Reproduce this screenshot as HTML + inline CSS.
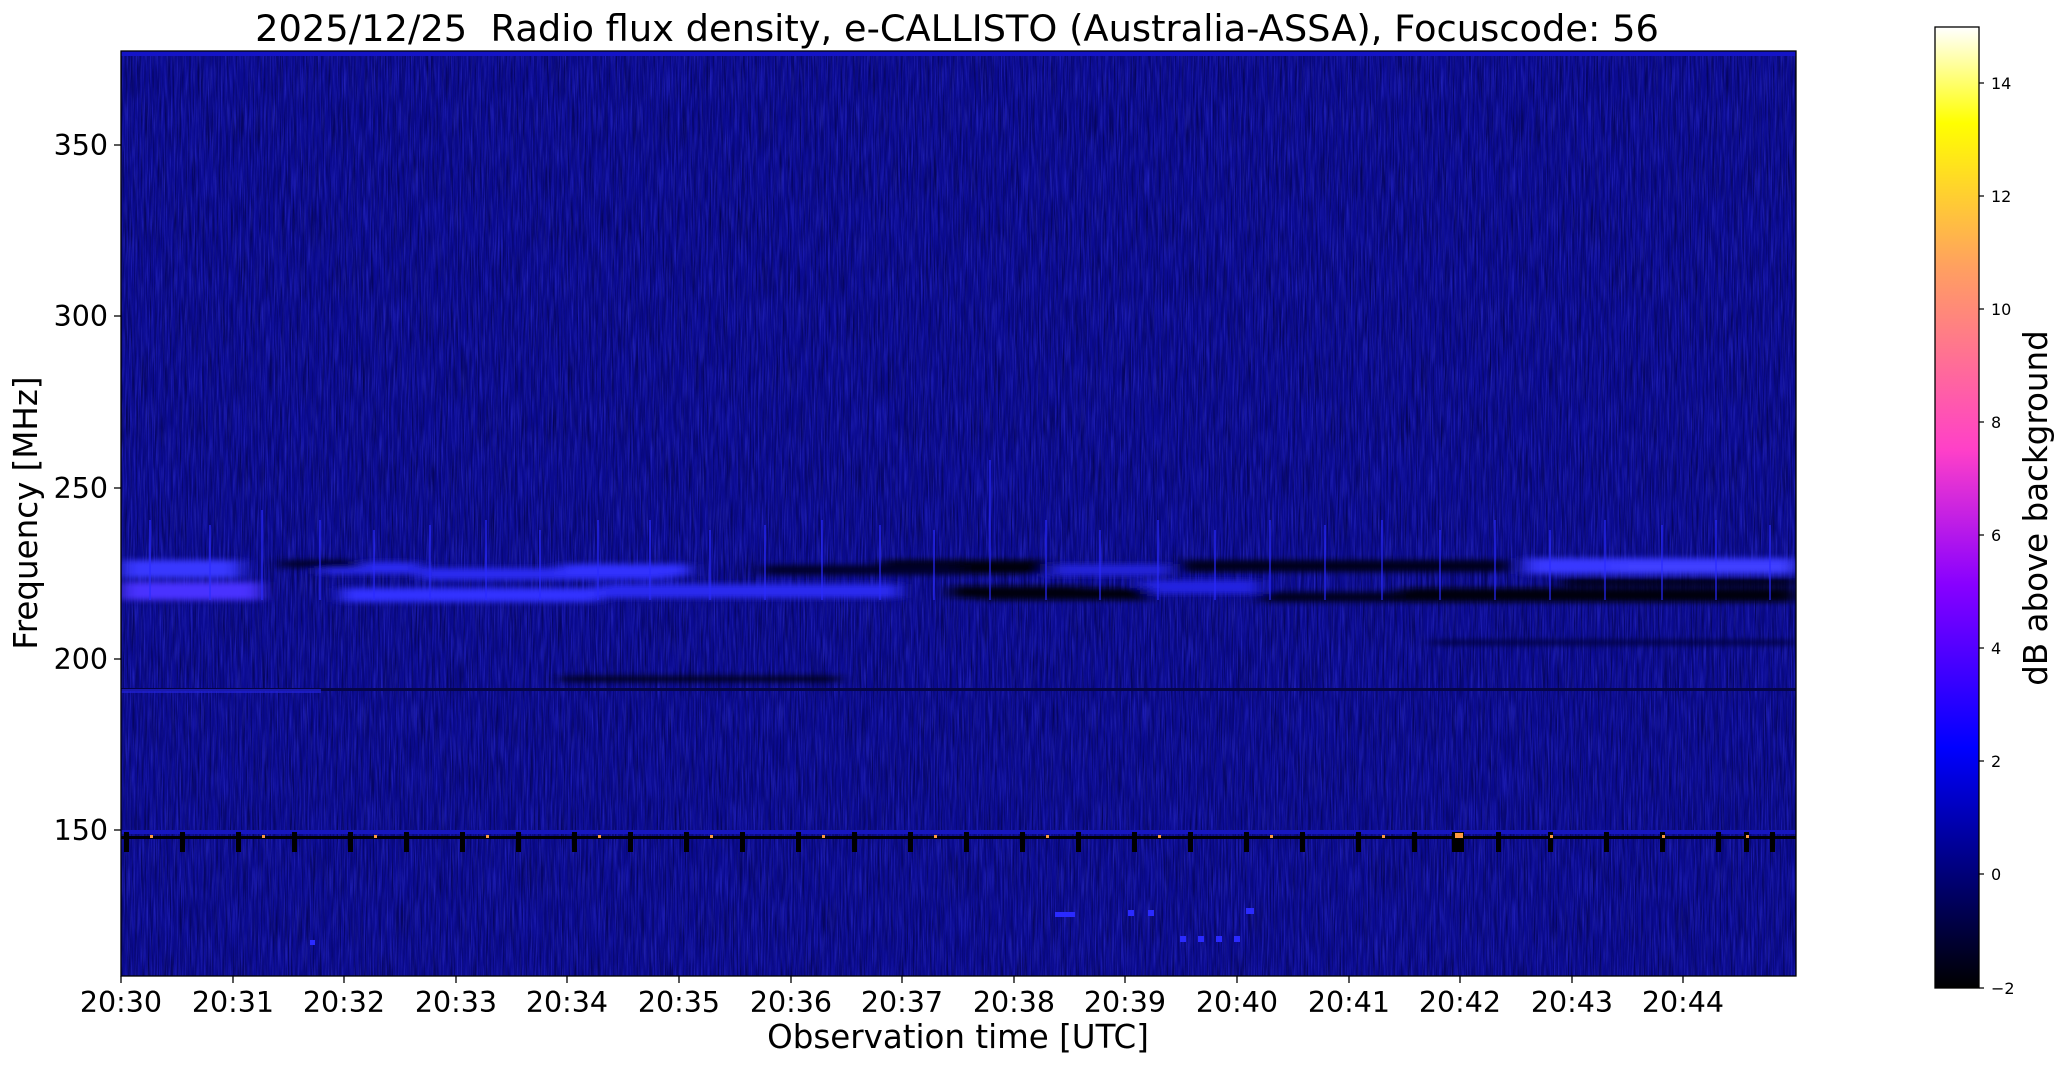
<!DOCTYPE html>
<html><head><meta charset="utf-8"><style>
html,body{margin:0;padding:0;background:#fff;}
svg{display:block;font-family:"DejaVu Sans","Liberation Sans",sans-serif;}
</style></head><body>
<svg width="2066" height="1067" viewBox="0 0 2066 1067" xmlns="http://www.w3.org/2000/svg">
<defs>
<linearGradient id="cb" x1="0" y1="1" x2="0" y2="0">
<stop offset="0" stop-color="#000"/>
<stop offset="0.25" stop-color="#0000ff"/>
<stop offset="0.42" stop-color="#8800ff"/>
<stop offset="0.56" stop-color="#ff40c8"/>
<stop offset="0.75" stop-color="#ffa060"/>
<stop offset="0.9" stop-color="#ffff00"/>
<stop offset="1" stop-color="#ffffff"/>
</linearGradient>
<filter id="nzd" x="0" y="0" width="100%" height="100%">
<feTurbulence type="fractalNoise" baseFrequency="0.6 0.02" numOctaves="2" seed="3"/>
<feColorMatrix values="0 0 0 0 0  0 0 0 0 0  0 0 0 0 0.02  2.2 0 0 0 -0.9"/>
</filter>
<filter id="nzb" x="0" y="0" width="100%" height="100%">
<feTurbulence type="fractalNoise" baseFrequency="0.7 0.03" numOctaves="2" seed="9"/>
<feColorMatrix values="0 0 0 0 0.05  0 0 0 0 0.05  0 0 0 0 0.9  2.2 0 0 0 -0.95"/>
</filter>
<filter id="bl" x="-5%" y="-50%" width="110%" height="200%"><feGaussianBlur stdDeviation="9 3"/></filter>
<clipPath id="pc"><rect x="121" y="51" width="1675" height="925"/></clipPath>
</defs>
<g clip-path="url(#pc)">
<rect x="121" y="51" width="1675" height="925" fill="#0b0b90"/>
<rect x="121" y="51" width="1675" height="925" filter="url(#nzd)" opacity="0.55"/>
<rect x="121" y="51" width="1675" height="925" filter="url(#nzb)" opacity="0.45"/>
<rect x="121" y="51" width="1675" height="5" fill="#1414c8"/>
<g filter="url(#bl)">
<rect x="121" y="560" width="120" height="18" fill="#3838ff"/>
<rect x="121" y="582" width="140" height="18" fill="#4a30ff"/>
<rect x="320" y="562" width="100" height="12" fill="#2a2af0"/>
<rect x="420" y="568" width="250" height="12" fill="#2a2af0"/>
<rect x="560" y="564" width="130" height="12" fill="#3030ff"/>
<rect x="340" y="588" width="260" height="14" fill="#3030ff"/>
<rect x="600" y="584" width="300" height="14" fill="#2c2cf0"/>
<rect x="1040" y="564" width="130" height="12" fill="#2020d8"/>
<rect x="1140" y="580" width="120" height="14" fill="#2424e0"/>
<rect x="1525" y="558" width="271" height="16" fill="#3838ff"/>
<rect x="1620" y="562" width="176" height="10" fill="#4040ff"/>
<rect x="880" y="560" width="170" height="14" fill="#000010"/>
<rect x="760" y="565" width="200" height="10" fill="#04042a"/>
<rect x="950" y="586" width="130" height="12" fill="#000010"/>
<rect x="980" y="588" width="170" height="12" fill="#000010"/>
<rect x="1180" y="560" width="330" height="12" fill="#03031c"/>
<rect x="1260" y="592" width="300" height="10" fill="#02021c"/>
<rect x="1400" y="588" width="396" height="14" fill="#00000a"/>
<rect x="1560" y="578" width="236" height="8" fill="#010118"/>
<rect x="280" y="560" width="80" height="8" fill="#04042a"/>
<rect x="560" y="676" width="280" height="6" fill="#00001a"/>
<rect x="1430" y="640" width="366" height="5" fill="#050540"/>
</g>
<rect x="121" y="688" width="1675" height="3" fill="#050548"/>
<rect x="121" y="689" width="200" height="4" fill="#2222d8" opacity="0.7"/>
<rect x="121" y="830" width="1675" height="4" fill="#1616c0"/>
<rect x="121" y="836" width="1675" height="3" fill="#000008"/>
<g fill="#000">
<rect x="124" y="832" width="5" height="20"/><rect x="180" y="832" width="5" height="20"/><rect x="236" y="832" width="5" height="20"/><rect x="292" y="832" width="5" height="20"/><rect x="348" y="832" width="5" height="20"/><rect x="404" y="832" width="5" height="20"/><rect x="460" y="832" width="5" height="20"/><rect x="516" y="832" width="5" height="20"/><rect x="572" y="832" width="5" height="20"/><rect x="628" y="832" width="5" height="20"/><rect x="684" y="832" width="5" height="20"/><rect x="740" y="832" width="5" height="20"/><rect x="796" y="832" width="5" height="20"/><rect x="852" y="832" width="5" height="20"/><rect x="908" y="832" width="5" height="20"/><rect x="964" y="832" width="5" height="20"/><rect x="1020" y="832" width="5" height="20"/><rect x="1076" y="832" width="5" height="20"/><rect x="1132" y="832" width="5" height="20"/><rect x="1188" y="832" width="5" height="20"/><rect x="1244" y="832" width="5" height="20"/><rect x="1300" y="832" width="5" height="20"/><rect x="1356" y="832" width="5" height="20"/><rect x="1412" y="832" width="5" height="20"/><rect x="1452" y="832" width="12" height="20"/><rect x="1496" y="832" width="5" height="20"/><rect x="1548" y="832" width="5" height="20"/><rect x="1604" y="832" width="5" height="20"/><rect x="1660" y="832" width="5" height="20"/><rect x="1716" y="832" width="5" height="20"/><rect x="1744" y="832" width="5" height="20"/><rect x="1770" y="832" width="5" height="20"/>
</g>
<g fill="#ff9a40">
<rect x="150" y="835" width="3" height="3"/><rect x="262" y="835" width="3" height="3"/><rect x="374" y="835" width="3" height="3"/><rect x="486" y="835" width="3" height="3"/><rect x="598" y="835" width="3" height="3"/><rect x="710" y="835" width="3" height="3"/><rect x="822" y="835" width="3" height="3"/><rect x="934" y="835" width="3" height="3"/><rect x="1046" y="835" width="3" height="3"/><rect x="1158" y="835" width="3" height="3"/><rect x="1270" y="835" width="3" height="3"/><rect x="1382" y="835" width="3" height="3"/><rect x="1455" y="833" width="8" height="5"/><rect x="1550" y="835" width="3" height="3"/><rect x="1662" y="835" width="3" height="3"/><rect x="1746" y="835" width="3" height="3"/>
</g>
<g stroke="#2a2aff" stroke-width="2" opacity="0.6">
<path d="M150 520V600M210 525V600M262 510V600M320 520V600M374 530V600M430 525V600M486 520V600M540 530V600M598 520V600M650 520V600M710 530V600M765 525V600M822 520V600M880 525V600M934 530V600M990 460V600M1046 520V600M1100 530V600M1158 520V600M1215 530V600M1270 520V600M1325 525V600M1382 520V600M1440 530V600M1495 520V600M1550 530V600M1605 520V600M1662 525V600M1716 520V600M1770 525V600"/>
</g>
<g fill="#2a2aff">
<rect x="1055" y="912" width="20" height="5"/><rect x="1128" y="910" width="6" height="6"/><rect x="1148" y="910" width="6" height="6"/><rect x="1246" y="908" width="8" height="6"/><rect x="1180" y="936" width="6" height="6"/><rect x="1198" y="936" width="6" height="6"/><rect x="1216" y="936" width="6" height="6"/><rect x="1234" y="936" width="6" height="6"/><rect x="310" y="940" width="5" height="5"/>
</g>
</g>
<rect x="121" y="51" width="1675" height="925" fill="none" stroke="#000" stroke-width="1.3"/>
<text x="957" y="41" font-size="36.8" text-anchor="middle" xml:space="preserve">2025/12/25  Radio flux density, e-CALLISTO (Australia-ASSA), Focuscode: 56</text>
<g font-size="28.5" text-anchor="end">
<line x1="114" y1="145" x2="121" y2="145" stroke="#000" stroke-width="1.3"/><text x="108" y="155">350</text>
<line x1="114" y1="316" x2="121" y2="316" stroke="#000" stroke-width="1.3"/><text x="108" y="326">300</text>
<line x1="114" y1="488" x2="121" y2="488" stroke="#000" stroke-width="1.3"/><text x="108" y="498">250</text>
<line x1="114" y1="659" x2="121" y2="659" stroke="#000" stroke-width="1.3"/><text x="108" y="669">200</text>
<line x1="114" y1="830" x2="121" y2="830" stroke="#000" stroke-width="1.3"/><text x="108" y="840">150</text>
</g>
<g font-size="28.5" text-anchor="middle">
<text x="121" y="1012">20:30</text><text x="233" y="1012">20:31</text><text x="344" y="1012">20:32</text><text x="456" y="1012">20:33</text><text x="567" y="1012">20:34</text><text x="679" y="1012">20:35</text><text x="791" y="1012">20:36</text><text x="902" y="1012">20:37</text><text x="1014" y="1012">20:38</text><text x="1125" y="1012">20:39</text><text x="1237" y="1012">20:40</text><text x="1349" y="1012">20:41</text><text x="1460" y="1012">20:42</text><text x="1572" y="1012">20:43</text><text x="1683" y="1012">20:44</text>
</g>
<g stroke="#000" stroke-width="1.3">
<path d="M121 976v7M233 976v7M344 976v7M456 976v7M567 976v7M679 976v7M791 976v7M902 976v7M1014 976v7M1125 976v7M1237 976v7M1349 976v7M1460 976v7M1572 976v7M1683 976v7"/>
</g>
<text x="958" y="1048" font-size="32.5" text-anchor="middle">Observation time [UTC]</text>
<text transform="translate(37,513) rotate(-90)" font-size="32.5" text-anchor="middle">Frequency [MHz]</text>
<rect x="1935" y="27" width="44" height="961" fill="url(#cb)" stroke="#000" stroke-width="1.3"/>
<g font-size="16">
<path d="M1979 988h5M1979 874h5M1979 761h5M1979 648h5M1979 535h5M1979 422h5M1979 309h5M1979 196h5M1979 83h5" stroke="#000" stroke-width="1.2"/>
<text x="1991" y="994">−2</text><text x="1991" y="880">0</text><text x="1991" y="767">2</text><text x="1991" y="654">4</text><text x="1991" y="541">6</text><text x="1991" y="428">8</text><text x="1991" y="315">10</text><text x="1991" y="202">12</text><text x="1991" y="89">14</text>
</g>
<text transform="translate(2047,508) rotate(-90)" font-size="32.5" text-anchor="middle">dB above background</text>
</svg>
</body></html>
